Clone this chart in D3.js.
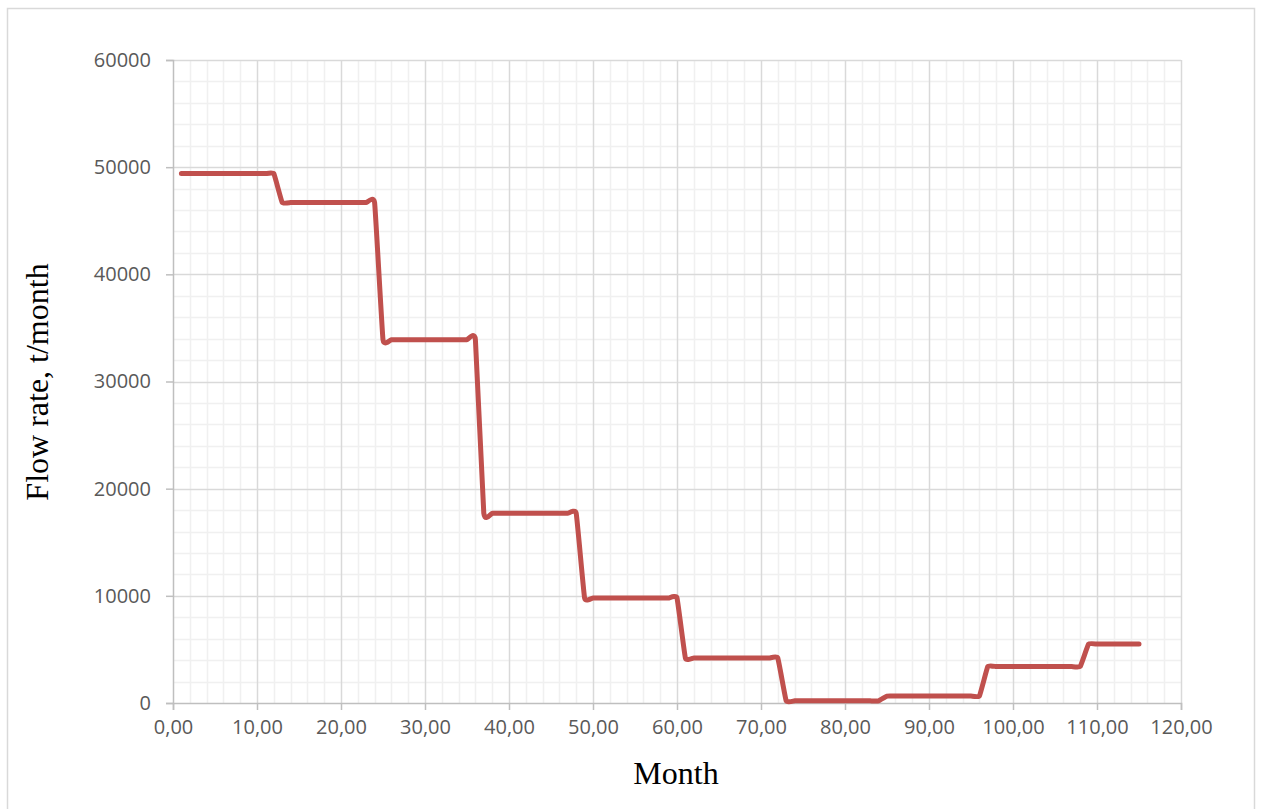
<!DOCTYPE html>
<html><head><meta charset="utf-8">
<script src="https://cdn.jsdelivr.net/npm/d3@7"></script>
<style>body{margin:0;background:#fff}svg{display:block}</style>
</head><body>
<script>
// Data: flow rate per month
const months = d3.range(1, 116);
const levels = [
  {from: 1, to: 12, value: 49400},
  {from: 13, to: 24, value: 46700},
  {from: 25, to: 36, value: 33900},
  {from: 37, to: 48, value: 17700},
  {from: 49, to: 60, value: 9800},
  {from: 61, to: 72, value: 4200},
  {from: 73, to: 84, value: 200},
  {from: 85, to: 96, value: 650},
  {from: 97, to: 108, value: 3400},
  {from: 109, to: 115, value: 5500}
];
const flow = months.map(m => levels.find(l => m >= l.from && m <= l.to).value);
const xTicks = [0, 10, 20, 30, 40, 50, 60, 70, 80, 90, 100, 110, 120];
const yTicks = [0, 10000, 20000, 30000, 40000, 50000, 60000];
const xLabel = "Month";
const yLabel = "Flow rate, t/month";

const W = 1262, H = 809;
const svg = d3.select("body").append("svg").attr("width", W).attr("height", H);
svg.append("rect").attr("x", 7.5).attr("y", 8.5).attr("width", 1247).attr("height", 820)
  .attr("fill", "#fff").attr("stroke", "#d9d9d9").attr("stroke-width", 1.5);

const x = d3.scaleLinear().domain([0, 120]).range([173, 1181]);
const y = d3.scaleLinear().domain([0, 60000]).range([703, 60]);

const g = svg.append("g");
// minor grid
const xMinor = d3.range(0, 121, 2).filter(v => v % 10 !== 0);
const yMinor = d3.range(0, 60001, 2000).filter(v => v % 10000 !== 0);
g.selectAll(".xm").data(xMinor).join("line")
  .attr("x1", d => Math.round(x(d)) + 0.5).attr("x2", d => Math.round(x(d)) + 0.5)
  .attr("y1", y(60000)).attr("y2", y(0)).attr("stroke", "#f0f0f0").attr("stroke-width", 1.5);
g.selectAll(".ym").data(yMinor).join("line")
  .attr("y1", d => Math.round(y(d)) + 0.5).attr("y2", d => Math.round(y(d)) + 0.5)
  .attr("x1", x(0)).attr("x2", x(120)).attr("stroke", "#f0f0f0").attr("stroke-width", 1.5);
// major grid
g.selectAll(".xM").data(xTicks.filter(v => v > 0)).join("line")
  .attr("x1", d => Math.round(x(d)) + 0.5).attr("x2", d => Math.round(x(d)) + 0.5)
  .attr("y1", y(60000)).attr("y2", y(0)).attr("stroke", "#d9d9d9").attr("stroke-width", 1.5);
g.selectAll(".yM").data(yTicks.filter(v => v > 0)).join("line")
  .attr("y1", d => Math.round(y(d)) + 0.5).attr("y2", d => Math.round(y(d)) + 0.5)
  .attr("x1", x(0)).attr("x2", x(120)).attr("stroke", "#d9d9d9").attr("stroke-width", 1.5);

// axes
const fmtX = d => d3.format(".2f")(d).replace(".", ",");
const xAxis = d3.axisBottom(x).tickValues(xTicks).tickFormat(fmtX).tickSize(7).tickPadding(10);
const yAxis = d3.axisLeft(y).tickValues(yTicks).tickFormat(d3.format("d")).tickSize(7).tickPadding(15);
const gx = svg.append("g").attr("transform", `translate(0,${y(0)})`).call(xAxis);
const gy = svg.append("g").attr("transform", `translate(${x(0)},0)`).call(yAxis);
[gx, gy].forEach(a => {
  a.selectAll("path,line").attr("stroke", "#bfbfbf").attr("stroke-width", 1.5);
  a.selectAll("text").attr("fill", "#595959").attr("font-family", "Open Sans, Liberation Sans, sans-serif").attr("font-size", 20);
});

// line
const line = d3.line().x((d, i) => x(months[i])).y(d => y(d)).curve(d3.curveCardinal.tension(0.68));
svg.append("path").datum(flow).attr("d", line)
  .attr("fill", "none").attr("stroke", "#c0504d").attr("stroke-width", 5)
  .attr("stroke-linejoin", "round").attr("stroke-linecap", "round");

// axis titles
svg.append("text").attr("x", 676).attr("y", 784).attr("text-anchor", "middle")
  .attr("font-family", "Liberation Serif, Times New Roman, serif").attr("font-size", 32).attr("fill", "#000").text(xLabel);
svg.append("text").attr("transform", "translate(48,382) rotate(-90)").attr("text-anchor", "middle")
  .attr("font-family", "Liberation Serif, Times New Roman, serif").attr("font-size", 32).attr("fill", "#000").text(yLabel);
</script>
</body></html>
